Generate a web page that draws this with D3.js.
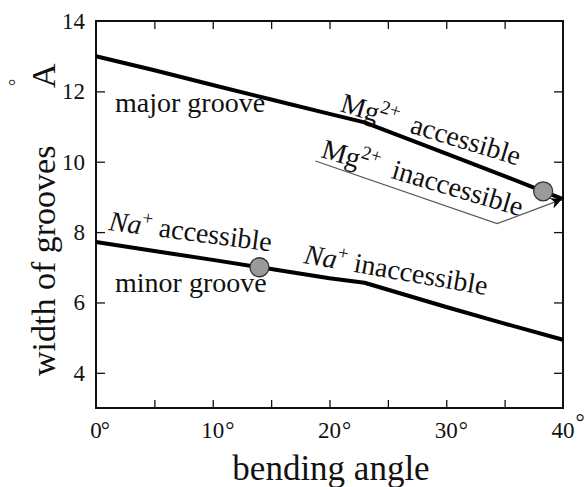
<!DOCTYPE html>
<html>
<head>
<meta charset="utf-8">
<script src="https://cdn.jsdelivr.net/npm/d3@7/dist/d3.min.js"></script>
<style>
  body { margin: 0; background: #fff; }
  svg { display: block; }
</style>
</head>
<body>
<svg id="chart" width="585" height="487" font-family="Liberation Serif, Times New Roman, Times, DejaVu Serif, serif" fill="#111"></svg>
<script>
'use strict'

// bending angle (degrees)
const angles = [0, 5, 10, 15, 20, 23, 30, 35, 40]
// groove widths (Angstrom)
const majorWidth = [13.0, 12.6, 12.18, 11.77, 11.36, 11.12, 10.23, 9.59, 8.94]
const minorWidth = [7.72, 7.46, 7.21, 6.95, 6.69, 6.56, 5.87, 5.40, 4.94]
// transition points (angle, width)
const transitions = [[14, 7.0], [38.3, 9.16]]
// annotation pointer for "Mg2+ inaccessible"
const pointer = [[18.8, 10.02], [34.35, 8.24], [39.9, 8.93]]

const xTicks = [0, 5, 10, 15, 20, 25, 30, 35, 40]
const xLabels = [0, 10, 20, 30, 40]
const yTicks = [4, 6, 8, 10, 12, 14]

const svg = d3.select('#chart')
const plot = { left: 96, right: 563, top: 21, bottom: 408 }

const x = d3.scaleLinear().domain([0, 40]).range([plot.left, plot.right])
const y = d3.scaleLinear().domain([3, 14]).range([plot.bottom, plot.top])

// ticks (inward on all four sides)
svg.append('g')
  .attr('transform', 'translate(0,' + plot.bottom + ')')
  .call(d3.axisBottom(x).tickValues(xTicks.slice(1, -1)).tickSizeInner(-8).tickSizeOuter(0).tickFormat(''))
svg.append('g')
  .attr('transform', 'translate(0,' + plot.top + ')')
  .call(d3.axisTop(x).tickValues(xTicks.slice(1, -1)).tickSizeInner(-8).tickSizeOuter(0).tickFormat(''))
svg.append('g')
  .attr('transform', 'translate(' + plot.left + ',0)')
  .call(d3.axisLeft(y).tickValues(yTicks.slice(0, -1)).tickSizeInner(-9).tickSizeOuter(0).tickFormat(''))
svg.append('g')
  .attr('transform', 'translate(' + plot.right + ',0)')
  .call(d3.axisRight(y).tickValues(yTicks.slice(0, -1)).tickSizeInner(-9).tickSizeOuter(0).tickFormat(''))
svg.selectAll('.domain').remove()
svg.selectAll('.tick line').attr('stroke', '#111').attr('stroke-width', 1.3)

// frame
svg.append('rect')
  .attr('x', plot.left).attr('y', plot.top)
  .attr('width', plot.right - plot.left).attr('height', plot.bottom - plot.top)
  .attr('fill', 'none').attr('stroke', '#111').attr('stroke-width', 2)

// tick labels
svg.selectAll('.ylab').data(yTicks).enter().append('text')
  .attr('class', 'ylab')
  .attr('x', 85).attr('y', d => y(d) + 8)
  .attr('text-anchor', 'end')
  .attr('font-size', 23)
  .text(d => d)

xLabels.forEach(v => {
  const t = svg.append('text')
    .attr('x', x(v)).attr('y', 438)
    .attr('text-anchor', 'middle')
    .attr('font-size', 23)
    .text(v)
  const w = t.node().getComputedTextLength()
  svg.append('text')
    .attr('x', x(v) + w / 2 + (v === 0 ? -1 : 1))
    .attr('y', v === 40 ? 430 : 438)
    .attr('font-size', 23)
    .text('°')
})

// axis titles
svg.append('text')
  .attr('x', 331).attr('y', 480)
  .attr('text-anchor', 'middle')
  .attr('font-size', 35)
  .text('bending angle')

svg.append('text')
  .attr('transform', 'translate(55,376) rotate(-90)')
  .attr('font-size', 34)
  .text('width of grooves')
svg.append('text')
  .attr('transform', 'translate(55,88) rotate(-90)')
  .attr('font-size', 34)
  .text('A')
svg.append('text')
  .attr('transform', 'translate(22,86) rotate(-90)')
  .attr('font-size', 18)
  .text('°')

// data lines
const line = d3.line()
  .x(d => x(d[0]))
  .y(d => y(d[1]))

const series = [majorWidth, minorWidth]
svg.selectAll('.groove').data(series).enter().append('path')
  .attr('class', 'groove')
  .attr('d', s => line(angles.map((a, i) => [a, s[i]])))
  .attr('fill', 'none')
  .attr('stroke', '#000')
  .attr('stroke-width', 4)
  .attr('stroke-linejoin', 'round')

// pointer with arrow
svg.append('defs').append('marker')
  .attr('id', 'arrow')
  .attr('viewBox', '0 0 10 10')
  .attr('refX', 10).attr('refY', 5)
  .attr('markerWidth', 17).attr('markerHeight', 11)
  .attr('markerUnits', 'userSpaceOnUse')
  .attr('orient', 'auto')
  .append('path')
  .attr('d', 'M0,0 L10,5 L0,10 L3,5 Z')
  .attr('fill', '#000')

svg.append('path')
  .attr('d', d3.line().x(d => x(d[0])).y(d => y(d[1]))(pointer))
  .attr('fill', 'none')
  .attr('stroke', '#555')
  .attr('stroke-width', 1.2)
  .attr('marker-end', 'url(#arrow)')

// transition markers
svg.selectAll('.trans').data(transitions).enter().append('circle')
  .attr('class', 'trans')
  .attr('cx', d => x(d[0]))
  .attr('cy', d => y(d[1]))
  .attr('r', 9.5)
  .attr('fill', '#9a9a9a')
  .attr('stroke', '#333')
  .attr('stroke-width', 1.3)

// curve labels
function label (px, py, angle, parts, size) {
  const t = svg.append('text')
    .attr('transform', 'translate(' + px + ',' + py + ') rotate(' + angle + ')')
    .attr('font-size', size)
  parts.forEach(p => {
    const s = t.append('tspan').text(p.text)
    if (p.italic) s.attr('font-style', 'italic')
    if (p.sup) s.attr('font-size', size * 0.68).attr('dy', -size * 0.38)
    if (p.down) s.attr('dy', size * 0.38)
  })
}

label(115, 112, 0, [{ text: 'major groove' }], 28)
label(115, 292, 0, [{ text: 'minor groove' }], 28)
label(108, 230, 7.5, [{ text: 'Na', italic: true }, { text: '+', sup: true }, { text: ' accessible', down: true }], 28)
label(303, 263, 10, [{ text: 'Na', italic: true }, { text: '+', sup: true }, { text: ' inaccessible', down: true }], 28)
label(339, 111, 17, [{ text: 'Mg' }, { text: '2+', sup: true }, { text: '\u00a0 accessible', down: true }], 28)
label(320, 157, 16.5, [{ text: 'Mg' }, { text: '2+', sup: true }, { text: '\u00a0 inaccessible', down: true }], 28)
</script>
</body>
</html>
